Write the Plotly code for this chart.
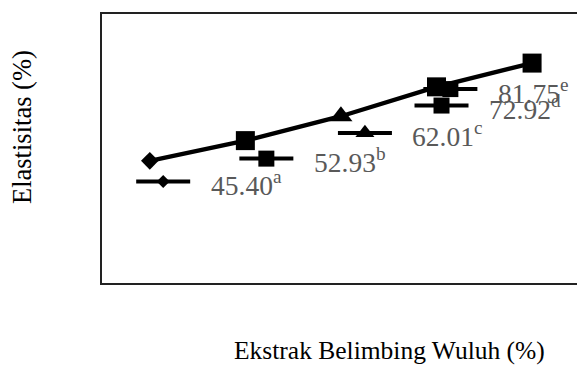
import plotly.graph_objects as go

# ---- data ----
categories = [1, 2, 3, 4, 5]
elastisitas = [45.40, 52.93, 62.01, 72.92, 81.75]
notasi = ["a", "b", "c", "d", "e"]
symbols = ["diamond", "square", "triangle-up", "square", "square"]

# ---- layout / style ----
W, H = 577, 365
ML, MR, MT, MB = 102, 0, 14, 82
XR = [0.5, 5.47]
YR = [0, 100]
plot_w = W - ML - MR
plot_h = H - MT - MB
pxx = plot_w / (XR[1] - XR[0])
pxy = plot_h / (YR[1] - YR[0])

main_sizes = [13.5, 19, 20, 19, 19]
key_sizes = [10, 16, 16.5, 16, 16]
# label (legend key + text) pixel offsets from each point: (dx right, dy down)
key_offsets = [(13.4, 20.6), (21, 18), (24, 16.7), (5, 18.7), (-81.7, 26)]
KEY_HALF = 27
TEXT_GAP = 45.5
FONT = "Liberation Serif, Times New Roman, serif"


def px_to_paper(px, py):
    return (px - ML) / plot_w, (H - MB - py) / plot_h


fig = go.Figure()

fig.add_trace(go.Scatter(
    x=categories, y=elastisitas, mode="lines+markers",
    line=dict(color="black", width=4.3),
    marker=dict(symbol=symbols, size=main_sizes, color="black", opacity=1,
                line=dict(width=0, color="black")),
    showlegend=False, hoverinfo="skip",
))

annotations = []
for xi, v, sym, ks, (dx, dy), n in zip(categories, elastisitas, symbols, key_sizes, key_offsets, notasi):
    xc = xi + dx / pxx
    yc = v - dy / pxy
    fig.add_trace(go.Scatter(
        x=[xc - KEY_HALF / pxx, xc, xc + KEY_HALF / pxx], y=[yc, yc, yc],
        mode="lines+markers",
        line=dict(color="black", width=4),
        marker=dict(symbol=sym, size=[0, ks, 0], color="black", opacity=1,
                    line=dict(width=0, color="black")),
        showlegend=False, hoverinfo="skip",
    ))
    annotations.append(dict(
        x=xc, y=yc, xref="x", yref="y", xshift=TEXT_GAP, yshift=-2,
        xanchor="left", yanchor="middle", showarrow=False,
        text=f"{v:.2f}<sup>{n}</sup>",
        font=dict(family=FONT, size=27.5, color="#595959"),
    ))

tx, ty = px_to_paper(389, 350)
annotations.append(dict(
    x=tx, y=ty, xref="paper", yref="paper",
    xanchor="center", yanchor="middle", showarrow=False,
    text="Ekstrak Belimbing Wuluh (%)",
    font=dict(family=FONT, size=25.5, color="black"),
))
tx, ty = px_to_paper(22, 127)
annotations.append(dict(
    x=tx, y=ty, xref="paper", yref="paper",
    xanchor="center", yanchor="middle", showarrow=False, textangle=-90,
    text="Elastisitas (%)",
    font=dict(family=FONT, size=26.5, color="black"),
))

fig.update_layout(
    width=W, height=H,
    margin=dict(l=ML, r=MR, t=MT, b=MB),
    paper_bgcolor="white", plot_bgcolor="white",
    annotations=annotations,
    xaxis=dict(range=XR, showgrid=False, zeroline=False, showticklabels=False,
               ticks="", showline=True, mirror=True, linecolor="#222", linewidth=1.5),
    yaxis=dict(range=YR, showgrid=False, zeroline=False, showticklabels=False,
               ticks="", showline=True, mirror=False, linecolor="#222", linewidth=1.5),
)

fig.write_html(
    "out.html",
    config={"displayModeBar": False},
    post_script="document.body.style.margin='0';document.body.style.overflow='hidden';",
)
